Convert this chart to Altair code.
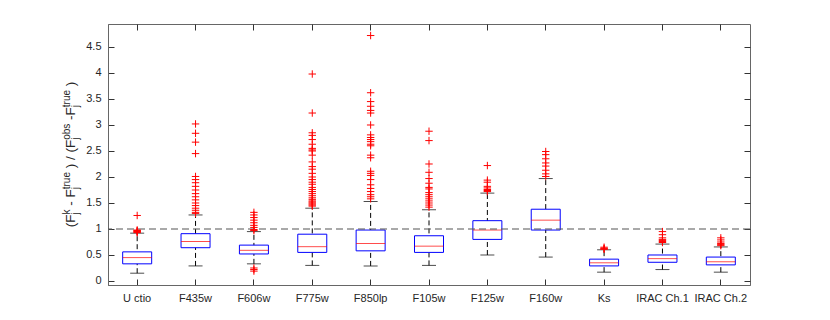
import altair as alt
import pandas as pd

FONT = "Liberation Sans"
TXT = "#262626"

labels = ["U ctio", "F435w", "F606w", "F775w", "F850lp", "F105w",
          "F125w", "F160w", "Ks", "IRAC Ch.1", "IRAC Ch.2"]
q1 = [0.33, 0.64, 0.52, 0.55, 0.58, 0.55, 0.80, 0.98, 0.29, 0.36, 0.31]
med = [0.45, 0.76, 0.59, 0.66, 0.72, 0.67, 0.98, 1.17, 0.35, 0.43, 0.37]
q3 = [0.56, 0.91, 0.69, 0.90, 0.98, 0.87, 1.16, 1.38, 0.42, 0.50, 0.46]
wlo = [0.15, 0.29, 0.33, 0.30, 0.29, 0.30, 0.50, 0.46, 0.17, 0.22, 0.17]
whi = [0.92, 1.27, 0.95, 1.40, 1.53, 1.37, 1.69, 1.97, 0.60, 0.71, 0.655]

out_uctio = [1.26, 0.98, 0.97, 0.96, 0.95, 0.94, 0.93]
out_f435w = [3.02, 2.84, 2.67, 2.45, 2.01, 1.95, 1.89, 1.82, 1.75, 1.68, 1.62,
             1.56, 1.50, 1.45, 1.40, 1.36, 1.32, 1.30]
out_f606w = [1.32, 1.27, 1.22, 1.17, 1.12, 1.07, 1.03, 0.99, 0.97, 0.25, 0.22, 0.19]
out_f775w = [3.98, 3.23, 2.85, 2.80, 2.72, 2.63, 2.55, 2.52, 2.50, 2.42, 2.29,
             2.20, 2.15, 2.07, 2.00, 1.95, 1.90, 1.86, 1.80, 1.76, 1.72, 1.68,
             1.64, 1.60, 1.57, 1.54, 1.52, 1.50, 1.48, 1.46, 1.44]
out_f850lp = [4.72, 3.62, 3.45, 3.36, 3.28, 3.23, 3.00, 2.81, 2.76, 2.72, 2.68,
              2.63, 2.60, 2.42, 2.37, 2.11, 2.07, 2.03, 1.95, 1.85, 1.78, 1.72,
              1.66, 1.62, 1.58]
out_f105w = [2.88, 2.70, 2.25, 2.09, 1.97, 1.88, 1.80, 1.77, 1.70, 1.66, 1.62,
             1.58, 1.54, 1.50, 1.46, 1.42]
out_f125w = [2.22, 1.94, 1.90, 1.82, 1.79, 1.76, 1.74, 1.72]
out_f160w = [2.49, 2.43, 2.35, 2.27, 2.21, 2.13, 2.06, 2.01]
out_ks = [0.65, 0.63, 0.62, 0.61]
out_irac1 = [0.95, 0.89, 0.83, 0.80, 0.78, 0.76, 0.74]
out_irac2 = [0.83, 0.79, 0.75, 0.72, 0.70, 0.68]

outliers = [out_uctio, out_f435w, out_f606w, out_f775w, out_f850lp, out_f105w,
            out_f125w, out_f160w, out_ks, out_irac1, out_irac2]

yticks = [0, 0.5, 1, 1.5, 2, 2.5, 3, 3.5, 4, 4.5]

stats = pd.DataFrame({"label": labels, "q1": q1, "med": med, "q3": q3,
                      "lo": wlo, "hi": whi})
out_df = pd.DataFrame([{"label": lab, "v": v}
                       for lab, vals in zip(labels, outliers) for v in vals])

W, H = 642, 261

xaxis = alt.Axis(orient="bottom", title=None, labelAngle=0, labelFont=FONT,
                 labelFontSize=11, labelColor=TXT, labelPadding=7, ticks=False,
                 tickSize=0, domainColor="#666666", domainWidth=1, grid=True,
                 gridColor="#333333", gridWidth=1, gridDash=[6, H - 12, 6, 1000],
                 bandPosition=0.5, labelOverlap=False)
yaxis = alt.Axis(orient="left", title=None, values=yticks, format="~g",
                 labelFont=FONT, labelFontSize=11, labelColor=TXT,
                 labelPadding=7, ticks=False, tickSize=0,
                 domainColor="#666666", domainWidth=1, grid=True,
                 gridColor="#333333", gridWidth=1, gridDash=[6, W - 12, 6, 1000])

xscale = alt.Scale(domain=labels, paddingInner=0, paddingOuter=0)
yscale = alt.Scale(domain=[-0.077, 4.942], nice=False, zero=False)

X = alt.X("label:N", sort=labels, scale=xscale, axis=xaxis)

base = alt.Chart(stats)

whisk = base.mark_rule(color="black", strokeDash=[5, 3], strokeWidth=1).encode(
    x=X, y=alt.Y("lo:Q", scale=yscale, axis=yaxis), y2="hi:Q")
cap_lo = base.mark_tick(color="black", size=14, thickness=1).encode(
    x=X, y=alt.Y("lo:Q", scale=yscale, axis=yaxis))
cap_hi = base.mark_tick(color="black", size=14, thickness=1).encode(
    x=X, y=alt.Y("hi:Q", scale=yscale, axis=yaxis))
box = base.mark_bar(width=29, fill="white", stroke="#0000ff",
                    strokeWidth=1).encode(
    x=X, y=alt.Y("q1:Q", scale=yscale, axis=yaxis), y2="q3:Q")
median = base.mark_tick(color="#ff0000", size=29, thickness=1).encode(
    x=X, y=alt.Y("med:Q", scale=yscale, axis=yaxis))
outl = alt.Chart(out_df).mark_point(
    shape="M-1,0L1,0M0,-1L0,1", size=55, color="#ff0000", filled=False,
    strokeWidth=1, opacity=1).encode(
    x=X, y=alt.Y("v:Q", scale=yscale, axis=yaxis))
ref = alt.Chart(alt.Data(values=[{}])).mark_rule(
    color="#555555", strokeDash=[7, 4], strokeWidth=1.2).encode(
    y=alt.datum(1, scale=yscale, axis=yaxis))

# y-axis title built from pieces (main text, superscripts, subscripts)
MAIN, SCR = 13.5, 10
EM = {"(": .333, ")": .333, "F": .611, " ": .278, "-": .333, "/": .278,
      "t": .278, "r": .333, "u": .556, "e": .556, "o": .556, "b": .556,
      "s": .5, "k": .5, "j": .222}


def wid(s, size):
    return sum(EM[c] for c in s) * size


seq = [("m", "(F"), ("sup", "k"), ("m", " - F"), ("sup", "true"),
       ("m", " ) / (F"), ("sup", "obs"), ("m", " -F"), ("sup", "true"),
       ("m", " )")]
pieces = []
s = 0.0
for kind, t in seq:
    if kind == "m":
        pos = s
        for c in t:
            if c != " ":
                pieces.append(("m", c, pos))
            pos += wid(c, MAIN)
        s = pos
    else:
        pieces.append(("sup", t, s))
        pieces.append(("sub", "j", s))
        s += wid(t, SCR)
total = s
start_y = H / 2 + total / 2
xb = {"m": -33, "sup": -38.5, "sub": -29.5}
fs = {"m": MAIN, "sup": SCR, "sub": SCR}

title_layers = []
for kind, t, pos in pieces:
    title_layers.append(
        alt.Chart(alt.Data(values=[{}])).mark_text(
            text=t, angle=270, align="left", baseline="alphabetic",
            font=FONT, fontSize=fs[kind], color=TXT).encode(
            x=alt.value(xb[kind]), y=alt.value(start_y - pos)))

chart = alt.layer(whisk, cap_lo, cap_hi, box, median, ref, outl,
                  *title_layers).properties(
    width=W, height=H,
    padding={"left": 100, "top": 16, "right": 60, "bottom": 20},
    autosize=alt.AutoSizeParams(type="none"),
).configure_view(stroke="#666666", strokeWidth=1)

chart.save("out.html", embed_options={"renderer": "svg", "actions": False})
